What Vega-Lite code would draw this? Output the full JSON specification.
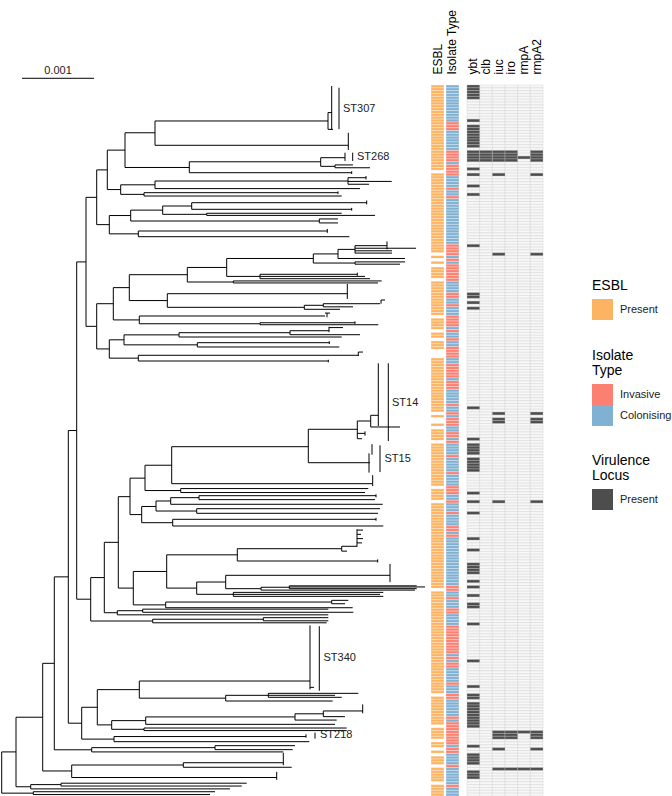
{
"$schema":"https://vega.github.io/schema/vega-lite/v6.json",
"autosize":{"type":"pad"},
"padding":{"top":9,"left":0,"right":0,"bottom":0},
"background":"white",
"config":{"view":{"stroke":null},
"axis":{"domain":false,"ticks":false,"grid":false,"labelFontSize":12,"labelFont":"Liberation Sans","labelColor":"#000","title":null},
"legend":{"orient":"none","titleFontSize":14,"titleFont":"Liberation Sans","titleFontWeight":"normal","titleColor":"#000","titleLineHeight":15,"titlePadding":6,"labelFontSize":11,"labelFont":"Liberation Sans","labelColor":"#222","labelOffset":7,"symbolType":"square","symbolSize":441,"symbolStrokeWidth":0,"symbolOpacity":1,"rowPadding":0,"padding":0}},
"datasets":{
"tips":[
{"r":0,"e":1,"t":"C","ybt":1},{"r":1,"e":1,"t":"C","ybt":1},{"r":2,"e":1,"t":"C","ybt":1},{"r":3,"e":1,"t":"C","ybt":1},{"r":4,"e":1,"t":"C","ybt":1},
{"r":5,"e":1,"t":"C"},{"r":6,"e":1,"t":"C"},{"r":7,"e":1,"t":"C"},{"r":8,"e":1,"t":"C"},{"r":9,"e":1,"t":"C"},{"r":10,"e":1,"t":"C"},{"r":11,"e":1,"t":"C"},
{"r":12,"e":1,"t":"C","ybt":1},{"r":13,"e":1,"t":"I"},{"r":14,"e":1,"t":"I","ybt":1},{"r":15,"e":1,"t":"I","ybt":1},
{"r":16,"e":1,"t":"C","ybt":1},{"r":17,"e":1,"t":"C","ybt":1},{"r":18,"e":1,"t":"C","ybt":1},{"r":19,"e":1,"t":"C","ybt":1},{"r":20,"e":1,"t":"C","ybt":1},{"r":21,"e":1,"t":"C","ybt":1},
{"r":22,"e":1,"t":"C"},
{"r":23,"e":1,"t":"I","ybt":1,"clb":1,"iuc":1,"iro":1,"rmpA2":1},{"r":24,"e":1,"t":"I","ybt":1,"clb":1,"iuc":1,"iro":1,"rmpA2":1},{"r":25,"e":1,"t":"I","ybt":1,"clb":1,"iuc":1,"iro":1,"rmpA":1,"rmpA2":1},{"r":26,"e":1,"t":"I","ybt":1,"clb":1,"iuc":1,"iro":1,"rmpA2":1},
{"r":27,"e":1,"t":"C"},{"r":28,"e":1,"t":"I"},{"r":29,"e":1,"t":"I","ybt":1},{"r":30,"e":0,"t":"I"},{"r":31,"e":1,"t":"I","ybt":1,"iuc":1,"rmpA2":1},
{"r":32,"e":1,"t":"C"},{"r":33,"e":1,"t":"C"},{"r":34,"e":1,"t":"C"},{"r":35,"e":1,"t":"C","ybt":1},{"r":36,"e":1,"t":"I"},{"r":37,"e":1,"t":"C"},{"r":38,"e":1,"t":"C","ybt":1},{"r":39,"e":1,"t":"I"},
{"r":40,"e":1,"t":"C"},{"r":41,"e":1,"t":"C"},{"r":42,"e":1,"t":"C"},{"r":43,"e":1,"t":"C"},{"r":44,"e":1,"t":"C"},{"r":45,"e":1,"t":"C"},{"r":46,"e":1,"t":"C"},{"r":47,"e":1,"t":"C"},
{"r":48,"e":1,"t":"C"},{"r":49,"e":1,"t":"C"},{"r":50,"e":1,"t":"C"},{"r":51,"e":1,"t":"C"},{"r":52,"e":1,"t":"C"},{"r":53,"e":1,"t":"C"},{"r":54,"e":1,"t":"C"},{"r":55,"e":1,"t":"C"},
{"r":56,"e":1,"t":"I","ybt":1},{"r":57,"e":1,"t":"I"},{"r":58,"e":1,"t":"I"},{"r":59,"e":0,"t":"I","iuc":1,"rmpA2":1},{"r":60,"e":1,"t":"C"},{"r":61,"e":0,"t":"I"},{"r":62,"e":1,"t":"C"},{"r":63,"e":0,"t":"I"},
{"r":64,"e":1,"t":"I"},{"r":65,"e":1,"t":"I"},{"r":66,"e":1,"t":"I"},{"r":67,"e":1,"t":"I"},{"r":68,"e":0,"t":"I"},
{"r":69,"e":1,"t":"C"},{"r":70,"e":1,"t":"C"},{"r":71,"e":1,"t":"C"},{"r":72,"e":1,"t":"C"},{"r":73,"e":1,"t":"I","ybt":1},{"r":74,"e":1,"t":"I","ybt":1},{"r":75,"e":1,"t":"C"},{"r":76,"e":1,"t":"C","ybt":1},
{"r":77,"e":1,"t":"I"},{"r":78,"e":1,"t":"C","ybt":1},{"r":79,"e":1,"t":"C"},{"r":80,"e":1,"t":"C"},{"r":81,"e":0,"t":"I"},{"r":82,"e":1,"t":"I"},{"r":83,"e":1,"t":"I"},{"r":84,"e":1,"t":"I"},
{"r":85,"e":1,"t":"C"},{"r":86,"e":0,"t":"I"},{"r":87,"e":1,"t":"C"},{"r":88,"e":1,"t":"C"},{"r":89,"e":0,"t":"I"},{"r":90,"e":1,"t":"C"},{"r":91,"e":1,"t":"C"},{"r":92,"e":1,"t":"I"},
{"r":93,"e":0,"t":"I"},{"r":94,"e":0,"t":"I"},{"r":95,"e":0,"t":"I"},{"r":96,"e":1,"t":"C"},{"r":97,"e":1,"t":"C"},
{"r":98,"e":1,"t":"I"},{"r":99,"e":1,"t":"I"},{"r":100,"e":1,"t":"I"},{"r":101,"e":1,"t":"I"},{"r":102,"e":1,"t":"I"},{"r":103,"e":1,"t":"C"},{"r":104,"e":1,"t":"I"},{"r":105,"e":1,"t":"I"},{"r":106,"e":1,"t":"I"},
{"r":107,"e":1,"t":"C"},{"r":108,"e":1,"t":"C"},{"r":109,"e":1,"t":"C"},{"r":110,"e":1,"t":"C"},{"r":111,"e":1,"t":"C"},{"r":112,"e":1,"t":"I"},{"r":113,"e":1,"t":"C","ybt":1},{"r":114,"e":1,"t":"C"},
{"r":115,"e":0,"t":"I","iuc":1,"rmpA2":1},{"r":116,"e":1,"t":"C"},{"r":117,"e":0,"t":"I","iuc":1,"rmpA2":1},{"r":118,"e":0,"t":"I","iuc":1,"rmpA2":1},{"r":119,"e":1,"t":"I"},{"r":120,"e":0,"t":"C"},{"r":121,"e":1,"t":"C"},
{"r":122,"e":1,"t":"I"},{"r":123,"e":1,"t":"I"},{"r":124,"e":1,"t":"C","ybt":1},{"r":125,"e":0,"t":"I"},
{"r":126,"e":1,"t":"C","ybt":1},{"r":127,"e":1,"t":"C","ybt":1},{"r":128,"e":1,"t":"C","ybt":1},{"r":129,"e":1,"t":"C","ybt":1},{"r":130,"e":1,"t":"I"},
{"r":131,"e":1,"t":"C","ybt":1},{"r":132,"e":1,"t":"C","ybt":1},{"r":133,"e":1,"t":"C","ybt":1},{"r":134,"e":1,"t":"C","ybt":1},{"r":135,"e":1,"t":"C","ybt":1},{"r":136,"e":1,"t":"I"},
{"r":137,"e":1,"t":"C"},{"r":138,"e":1,"t":"C"},{"r":139,"e":1,"t":"C"},{"r":140,"e":1,"t":"C"},{"r":141,"e":0,"t":"I"},{"r":142,"e":1,"t":"I"},{"r":143,"e":1,"t":"I","ybt":1},{"r":144,"e":1,"t":"C"},{"r":145,"e":1,"t":"C"},
{"r":146,"e":0,"t":"I","ybt":1,"iuc":1,"rmpA2":1},{"r":147,"e":1,"t":"C"},{"r":148,"e":1,"t":"C"},{"r":149,"e":1,"t":"C"},{"r":150,"e":1,"t":"I","ybt":1},
{"r":151,"e":1,"t":"C"},{"r":152,"e":1,"t":"C"},{"r":153,"e":1,"t":"C"},{"r":154,"e":1,"t":"C"},{"r":155,"e":1,"t":"I"},{"r":156,"e":1,"t":"I"},{"r":157,"e":1,"t":"C"},{"r":158,"e":1,"t":"I"},{"r":159,"e":1,"t":"C","ybt":1},
{"r":160,"e":1,"t":"C"},{"r":161,"e":1,"t":"C"},{"r":162,"e":1,"t":"C"},{"r":163,"e":1,"t":"C","ybt":1},{"r":164,"e":1,"t":"C"},{"r":165,"e":1,"t":"C"},{"r":166,"e":1,"t":"C"},{"r":167,"e":1,"t":"C"},
{"r":168,"e":1,"t":"C","ybt":1},{"r":169,"e":1,"t":"C","ybt":1},{"r":170,"e":1,"t":"C","ybt":1},{"r":171,"e":1,"t":"C","ybt":1},{"r":172,"e":1,"t":"C"},{"r":173,"e":1,"t":"C"},{"r":174,"e":1,"t":"C","ybt":1},{"r":175,"e":1,"t":"C"},
{"r":176,"e":1,"t":"I","ybt":1},{"r":177,"e":0,"t":"I"},{"r":178,"e":1,"t":"C"},{"r":179,"e":1,"t":"C","ybt":1},{"r":180,"e":1,"t":"I"},{"r":181,"e":1,"t":"C"},{"r":182,"e":1,"t":"C","ybt":1},{"r":183,"e":1,"t":"C","ybt":1},
{"r":184,"e":1,"t":"I"},{"r":185,"e":1,"t":"I"},{"r":186,"e":1,"t":"C"},{"r":187,"e":1,"t":"C"},{"r":188,"e":1,"t":"C"},{"r":189,"e":1,"t":"C","ybt":1},
{"r":190,"e":1,"t":"I"},{"r":191,"e":1,"t":"I"},{"r":192,"e":1,"t":"I"},{"r":193,"e":1,"t":"I"},{"r":194,"e":1,"t":"I"},{"r":195,"e":1,"t":"I"},{"r":196,"e":1,"t":"I"},{"r":197,"e":1,"t":"I"},{"r":198,"e":1,"t":"I"},{"r":199,"e":1,"t":"I"},
{"r":200,"e":1,"t":"C"},{"r":201,"e":1,"t":"I"},{"r":202,"e":1,"t":"C","ybt":1},{"r":203,"e":1,"t":"I"},{"r":204,"e":1,"t":"I"},
{"r":205,"e":1,"t":"C"},{"r":206,"e":1,"t":"C"},{"r":207,"e":1,"t":"C"},{"r":208,"e":1,"t":"C"},{"r":209,"e":1,"t":"C"},{"r":210,"e":1,"t":"I"},{"r":211,"e":1,"t":"C","ybt":1},{"r":212,"e":1,"t":"C"},{"r":213,"e":1,"t":"C"},
{"r":214,"e":0,"t":"I","ybt":1},{"r":215,"e":1,"t":"I","ybt":1},{"r":216,"e":1,"t":"C"},
{"r":217,"e":1,"t":"C","ybt":1},{"r":218,"e":1,"t":"C","ybt":1},{"r":219,"e":1,"t":"C","ybt":1},{"r":220,"e":1,"t":"C","ybt":1},{"r":221,"e":1,"t":"C","ybt":1},{"r":222,"e":1,"t":"I","ybt":1},{"r":223,"e":1,"t":"C","ybt":1},{"r":224,"e":1,"t":"I","ybt":1},{"r":225,"e":0,"t":"I","ybt":1},
{"r":226,"e":1,"t":"I"},{"r":227,"e":1,"t":"I","iuc":1,"iro":1,"rmpA":1,"rmpA2":1},{"r":228,"e":1,"t":"I","iuc":1,"iro":1,"rmpA2":1},{"r":229,"e":1,"t":"I","iuc":1,"iro":1,"rmpA2":1},
{"r":230,"e":0,"t":"I"},{"r":231,"e":1,"t":"I"},{"r":232,"e":1,"t":"C","ybt":1},{"r":233,"e":0,"t":"I","iuc":1,"rmpA2":1},{"r":234,"e":1,"t":"I"},{"r":235,"e":0,"t":"C","ybt":1},
{"r":236,"e":1,"t":"C","ybt":1},{"r":237,"e":1,"t":"C","ybt":1},{"r":238,"e":1,"t":"C","ybt":1},{"r":239,"e":0,"t":"I"},{"r":240,"e":1,"t":"C","iuc":1,"iro":1,"rmpA":1,"rmpA2":1},
{"r":241,"e":1,"t":"C","ybt":1},{"r":242,"e":1,"t":"C","ybt":1},{"r":243,"e":1,"t":"C","ybt":1},{"r":244,"e":1,"t":"C"},{"r":245,"e":0,"t":"C"},{"r":246,"e":1,"t":"I"},{"r":247,"e":1,"t":"C"},{"r":248,"e":1,"t":"C"},{"r":249,"e":1,"t":"C"}
],
"h":[
{"x":1.7,"x2":16,"y":234.5},{"x":1.7,"x2":33.3,"y":249.0},{"x":33.3,"x2":215,"y":248.5},{"x":33.3,"x2":210,"y":249.5},{"x":16,"x2":30.7,"y":246.75},{"x":30.7,"x2":61,"y":246.0},{"x":30.7,"x2":230,"y":247.5},{"x":61,"x2":246.7,"y":245.5},{"x":61,"x2":241.7,"y":246.5},
{"x":16,"x2":42.7,"y":222.3},{"x":42.7,"x2":54.3,"y":203.35},{"x":42.7,"x2":71.7,"y":241.2},{"x":71.7,"x2":183.3,"y":239.1},{"x":71.7,"x2":276.7,"y":243.5},{"x":183.3,"x2":283.3,"y":238.3},{"x":183.3,"x2":291.7,"y":239.9},
{"x":54.3,"x2":68.3,"y":172.95},{"x":54.3,"x2":91.7,"y":233.75},{"x":91.7,"x2":215,"y":233.0},{"x":91.7,"x2":283.3,"y":234.5},{"x":215,"x2":295,"y":232.3},{"x":215,"x2":292.7,"y":233.7},
{"x":68.3,"x2":76.7,"y":121.5},{"x":68.3,"x2":81.7,"y":224.4},{"x":81.7,"x2":97.3,"y":218.8},{"x":81.7,"x2":114,"y":230.0},{"x":114,"x2":306,"y":229.1},{"x":114,"x2":309.3,"y":230.9},
{"x":97.3,"x2":139.3,"y":212.6},{"x":97.3,"x2":111.7,"y":225.0},{"x":139.3,"x2":310,"y":209.57},{"x":139.3,"x2":225.7,"y":215.6},{"x":310,"x2":314,"y":211.8},
{"x":225.7,"x2":268.3,"y":214.6},{"x":225.7,"x2":332.7,"y":216.6},{"x":268.3,"x2":358.3,"y":213.9},{"x":268.3,"x2":335,"y":214.6},{"x":268.3,"x2":341.7,"y":215.3},
{"x":111.7,"x2":145.7,"y":223.5},{"x":111.7,"x2":144,"y":226.55},{"x":144,"x2":346.7,"y":226.1},{"x":144,"x2":346.7,"y":227.0},{"x":145.7,"x2":295,"y":222.2},{"x":145.7,"x2":335,"y":224.8},
{"x":295,"x2":323.3,"y":221.1},{"x":295,"x2":336.7,"y":223.3},{"x":323.3,"x2":362.7,"y":220.1},{"x":323.3,"x2":345,"y":222.1},
{"x":76.7,"x2":86,"y":62.2},{"x":76.7,"x2":90.7,"y":180.8},{"x":90.7,"x2":104.3,"y":173.2},{"x":90.7,"x2":152.7,"y":188.47},{"x":152.7,"x2":263.3,"y":187.85},{"x":152.7,"x2":326.7,"y":189.1},
{"x":263.3,"x2":328.3,"y":187.3},{"x":263.3,"x2":328.3,"y":188.4},{"x":104.3,"x2":118.3,"y":160.8},{"x":104.3,"x2":117.3,"y":185.56},{"x":117.3,"x2":142.7,"y":184.85},{"x":117.3,"x2":328.3,"y":186.3},
{"x":142.7,"x2":328.3,"y":184.3},{"x":142.7,"x2":353.3,"y":185.4},{"x":118.3,"x2":130,"y":144.75},{"x":118.3,"x2":133.3,"y":176.9},{"x":133.3,"x2":166.7,"y":171.05},{"x":133.3,"x2":165.7,"y":182.8},
{"x":165.7,"x2":331.7,"y":181.8},{"x":165.7,"x2":352.7,"y":183.8},{"x":331.7,"x2":348.3,"y":181.2},{"x":331.7,"x2":345,"y":182.4},{"x":166.7,"x2":237.3,"y":165.2},{"x":166.7,"x2":196.7,"y":176.9},
{"x":237.3,"x2":341.7,"y":163.05},{"x":237.3,"x2":377.7,"y":167.37},{"x":341.7,"x2":357,"y":162.2},{"x":341.7,"x2":347,"y":163.9},{"x":357,"x2":363,"y":156.5},{"x":357,"x2":361,"y":158},{"x":357,"x2":363,"y":159.5},{"x":357,"x2":362,"y":161},
{"x":196.7,"x2":225.7,"y":174.76},{"x":196.7,"x2":233.3,"y":179.08},{"x":225.7,"x2":390,"y":172.4},{"x":225.7,"x2":261,"y":177.11},{"x":261,"x2":289.3,"y":176.6},{"x":261,"x2":415,"y":177.6},
{"x":289.3,"x2":416.7,"y":176.1},{"x":289.3,"x2":425,"y":176.5},{"x":289.3,"x2":416.7,"y":177.1},{"x":233.3,"x2":383.3,"y":178.4},{"x":233.3,"x2":380,"y":179.1},{"x":233.3,"x2":383.3,"y":179.8},
{"x":130,"x2":145,"y":138.24},{"x":130,"x2":141.7,"y":151.05},{"x":145,"x2":171.7,"y":133.7},{"x":145,"x2":180.7,"y":142.6},{"x":180.7,"x2":368.3,"y":141.9},{"x":180.7,"x2":365,"y":143.3},
{"x":171.7,"x2":308.3,"y":127.18},{"x":171.7,"x2":372.7,"y":140.19},{"x":308.3,"x2":357.3,"y":121.06},{"x":308.3,"x2":370,"y":132.81},{"x":357.3,"x2":370.7,"y":118.14},{"x":357.3,"x2":365,"y":122.5},{"x":357.3,"x2":362,"y":124.37},
{"x":370.7,"x2":378.3,"y":116.14},{"x":370.7,"x2":400,"y":120.25},{"x":141.7,"x2":156,"y":148.2},{"x":141.7,"x2":172.7,"y":153.9},{"x":172.7,"x2":376,"y":152.71},{"x":172.7,"x2":383.3,"y":155.06},
{"x":156,"x2":170.7,"y":146.27},{"x":156,"x2":196.7,"y":149.8},{"x":170.7,"x2":199,"y":145.1},{"x":170.7,"x2":382.7,"y":147.43},{"x":199,"x2":376,"y":144.4},{"x":199,"x2":375,"y":145.8},{"x":196.7,"x2":380,"y":148.98},{"x":196.7,"x2":378,"y":150.6},
{"x":86,"x2":96.7,"y":39.5},{"x":86,"x2":96.7,"y":84.85},{"x":96.7,"x2":107.3,"y":29.85},{"x":96.7,"x2":109.3,"y":49.1},{"x":107.3,"x2":125,"y":22.9},{"x":107.3,"x2":120.7,"y":36.77},
{"x":125,"x2":155,"y":16.8},{"x":125,"x2":189.3,"y":29.0},{"x":155,"x2":328,"y":12.65},{"x":155,"x2":348.3,"y":21.2},{"x":328,"x2":331.7,"y":9.7},{"x":328,"x2":333,"y":15.6},
{"x":189.3,"x2":320.7,"y":27.0},{"x":189.3,"x2":351.7,"y":30.84},{"x":320.7,"x2":345,"y":25.56},{"x":320.7,"x2":335,"y":28.6},{"x":335,"x2":353,"y":28.1},{"x":335,"x2":370,"y":29.1},
{"x":120.7,"x2":155,"y":35.1},{"x":120.7,"x2":144,"y":38.45},{"x":155,"x2":348,"y":33.76},{"x":155,"x2":360,"y":36.43},{"x":348,"x2":366,"y":32.6},{"x":348,"x2":391.7,"y":33.9},{"x":348,"x2":369,"y":34.9},
{"x":144,"x2":338,"y":37.87},{"x":144,"x2":341.7,"y":39.03},{"x":109.3,"x2":130.7,"y":45.9},{"x":109.3,"x2":138.3,"y":52.34},{"x":130.7,"x2":162.7,"y":44.0},{"x":130.7,"x2":319.3,"y":47.82},
{"x":162.7,"x2":191.7,"y":42.55},{"x":162.7,"x2":206.7,"y":45.47},{"x":191.7,"x2":366.7,"y":41.39},{"x":191.7,"x2":351.7,"y":43.71},{"x":206.7,"x2":341.7,"y":45.1},{"x":206.7,"x2":375,"y":45.85},
{"x":319.3,"x2":338,"y":47.1},{"x":319.3,"x2":338,"y":48.5},{"x":138.3,"x2":327.3,"y":51.34},{"x":138.3,"x2":349.3,"y":53.34},
{"x":96.7,"x2":113.3,"y":76.9},{"x":96.7,"x2":109.3,"y":92.8},{"x":113.3,"x2":129.3,"y":71.25},{"x":113.3,"x2":139.3,"y":82.6},{"x":129.3,"x2":187.3,"y":66.7},{"x":129.3,"x2":167.3,"y":75.8},
{"x":187.3,"x2":226.7,"y":64.15},{"x":187.3,"x2":233.3,"y":69.27},{"x":233.3,"x2":381.7,"y":68.9},{"x":233.3,"x2":378,"y":69.6},{"x":226.7,"x2":313.3,"y":61.0},{"x":226.7,"x2":260,"y":67.3},
{"x":313.3,"x2":338,"y":59.4},{"x":313.3,"x2":355,"y":62.6},{"x":338,"x2":355,"y":57.8},{"x":338,"x2":405,"y":61.0},{"x":355,"x2":387,"y":56.5},{"x":355,"x2":416,"y":57.4},{"x":355,"x2":392,"y":58.3},{"x":355,"x2":392,"y":59.1},
{"x":355,"x2":405,"y":62.2},{"x":355,"x2":400,"y":63.0},{"x":260,"x2":357.3,"y":66.56},{"x":260,"x2":365,"y":67.3},{"x":260,"x2":370,"y":68.11},
{"x":167.3,"x2":347.3,"y":73.38},{"x":167.3,"x2":304.3,"y":78.17},{"x":304.3,"x2":323.3,"y":77.46},{"x":304.3,"x2":340,"y":78.87},{"x":323.3,"x2":380,"y":76.9},{"x":323.3,"x2":353,"y":78.0},{"x":381,"x2":385,"y":75.6},
{"x":139.3,"x2":325,"y":81.22},{"x":139.3,"x2":260,"y":83.95},{"x":260,"x2":355,"y":83.6},{"x":260,"x2":378.3,"y":84.3},{"x":325,"x2":330,"y":80.2},
{"x":109.3,"x2":124,"y":89.6},{"x":109.3,"x2":138.3,"y":96.05},{"x":124,"x2":179,"y":87.86},{"x":124,"x2":197.3,"y":91.37},{"x":179,"x2":290,"y":87.1},{"x":179,"x2":341.7,"y":88.61},
{"x":290,"x2":329,"y":86.4},{"x":290,"x2":360,"y":87.8},{"x":329,"x2":343,"y":85.3},{"x":197.3,"x2":329.3,"y":90.61},{"x":197.3,"x2":339.3,"y":92.12},{"x":138.3,"x2":358.3,"y":95.04},{"x":138.3,"x2":328.3,"y":97.05},{"x":358.3,"x2":363,"y":93.9},
{"x":22,"x2":94,"y":-2.36}
],
"v":[
{"x":1.7,"y":234.5,"y2":249.0},{"x":16,"y":222.3,"y2":246.75},{"x":33.3,"y":248.5,"y2":249.5},{"x":30.7,"y":246.0,"y2":247.5},{"x":61,"y":245.5,"y2":246.5},{"x":42.7,"y":203.35,"y2":241.2},
{"x":71.7,"y":239.1,"y2":243.5},{"x":183.3,"y":238.3,"y2":239.9},{"x":283.3,"y":234.8,"y2":239.2},{"x":276.7,"y":241.5,"y2":244.3},{"x":54.3,"y":172.95,"y2":233.75},{"x":91.7,"y":233.0,"y2":234.5},{"x":215,"y":232.3,"y2":233.7},
{"x":68.3,"y":121.5,"y2":224.4},{"x":81.7,"y":218.8,"y2":230.0},{"x":114,"y":229.1,"y2":230.9},{"x":306,"y":228.3,"y2":229.5},{"x":315,"y":227.7,"y2":229.85},{"x":97.3,"y":212.6,"y2":225.0},
{"x":139.3,"y":209.57,"y2":215.6},{"x":310,"y":190.0,"y2":212.5},{"x":319.3,"y":190.3,"y2":213.0},{"x":225.7,"y":214.6,"y2":216.6},{"x":268.3,"y":213.9,"y2":215.3},{"x":111.7,"y":223.5,"y2":226.55},
{"x":145.7,"y":222.2,"y2":224.8},{"x":295,"y":221.1,"y2":223.3},{"x":323.3,"y":220.1,"y2":222.1},{"x":362.7,"y":217.8,"y2":220.9},{"x":144,"y":226.1,"y2":227.0},
{"x":76.7,"y":62.2,"y2":180.8},{"x":90.7,"y":173.2,"y2":188.47},{"x":152.7,"y":187.85,"y2":189.1},{"x":263.3,"y":187.3,"y2":188.4},{"x":104.3,"y":160.8,"y2":185.56},{"x":117.3,"y":184.85,"y2":186.3},
{"x":142.7,"y":184.3,"y2":185.4},{"x":118.3,"y":144.75,"y2":176.9},{"x":133.3,"y":171.05,"y2":182.8},{"x":165.7,"y":181.8,"y2":183.8},{"x":331.7,"y":181.2,"y2":182.4},{"x":166.7,"y":165.2,"y2":176.9},
{"x":237.3,"y":163.05,"y2":167.37},{"x":377.7,"y":166.8,"y2":167.9},{"x":341.7,"y":162.2,"y2":163.9},{"x":357,"y":156.2,"y2":162.4},{"x":196.7,"y":174.76,"y2":179.08},{"x":225.7,"y":172.4,"y2":177.11},
{"x":390,"y":168.4,"y2":174.8},{"x":261,"y":176.6,"y2":177.6},{"x":289.3,"y":176.1,"y2":177.1},{"x":233.3,"y":178.4,"y2":179.8},
{"x":130,"y":138.24,"y2":151.05},{"x":145,"y":133.7,"y2":142.6},{"x":180.7,"y":141.9,"y2":143.3},{"x":171.7,"y":127.18,"y2":140.19},{"x":372.7,"y":137.2,"y2":141.0},{"x":308.3,"y":121.06,"y2":132.81},
{"x":357.3,"y":118.14,"y2":124.37},{"x":365,"y":121.8,"y2":123.3},{"x":370.7,"y":116.14,"y2":120.25},{"x":378.3,"y":97.86,"y2":119.9},{"x":388.3,"y":97.86,"y2":125.18},{"x":372,"y":126.3,"y2":130.0},
{"x":369,"y":129.5,"y2":136.3},{"x":380,"y":126.7,"y2":136.1},{"x":141.7,"y":148.2,"y2":153.9},{"x":172.7,"y":152.71,"y2":155.06},{"x":376,"y":152.2,"y2":153.2},{"x":156,"y":146.27,"y2":149.8},
{"x":170.7,"y":145.1,"y2":147.43},{"x":199,"y":144.4,"y2":145.8},{"x":376,"y":143.9,"y2":145.0},{"x":196.7,"y":148.98,"y2":150.6},
{"x":86,"y":39.5,"y2":84.85},{"x":96.7,"y":29.85,"y2":49.1},{"x":107.3,"y":22.9,"y2":36.77},{"x":125,"y":16.8,"y2":29.0},{"x":155,"y":12.65,"y2":21.2},{"x":328,"y":9.7,"y2":15.6},
{"x":331.7,"y":0.35,"y2":15.8},{"x":339,"y":0.95,"y2":15.5},{"x":348.3,"y":16.8,"y2":22.85},{"x":189.3,"y":27.0,"y2":30.84},{"x":320.7,"y":25.56,"y2":28.6},{"x":345,"y":23.8,"y2":26.7},
{"x":352.7,"y":23.8,"y2":26.7},{"x":335,"y":28.1,"y2":29.1},{"x":351.7,"y":30.3,"y2":31.3},{"x":120.7,"y":35.1,"y2":38.45},{"x":155,"y":33.76,"y2":36.43},{"x":348,"y":32.6,"y2":34.9},
{"x":366,"y":32.0,"y2":33.2},{"x":144,"y":37.87,"y2":39.03},{"x":338,"y":37.4,"y2":38.3},{"x":109.3,"y":45.9,"y2":52.34},{"x":130.7,"y":44.0,"y2":47.82},{"x":162.7,"y":42.55,"y2":45.47},
{"x":191.7,"y":41.39,"y2":43.71},{"x":366.7,"y":40.6,"y2":42.0},{"x":351.7,"y":43.2,"y2":44.2},{"x":206.7,"y":45.1,"y2":45.85},{"x":319.3,"y":47.1,"y2":48.5},{"x":138.3,"y":51.34,"y2":53.34},{"x":327.3,"y":50.6,"y2":52.0},
{"x":96.7,"y":76.9,"y2":92.8},{"x":113.3,"y":71.25,"y2":82.6},{"x":129.3,"y":66.7,"y2":75.8},{"x":187.3,"y":64.15,"y2":69.27},{"x":226.7,"y":61.0,"y2":67.3},{"x":313.3,"y":59.4,"y2":62.6},
{"x":338,"y":57.8,"y2":61.0},{"x":355,"y":56.5,"y2":59.1},{"x":387,"y":55.0,"y2":57.8},{"x":355,"y":62.2,"y2":63.0},{"x":260,"y":66.56,"y2":68.11},{"x":357.3,"y":66.0,"y2":67.1},{"x":233.3,"y":68.9,"y2":69.6},
{"x":167.3,"y":73.38,"y2":78.17},{"x":347.3,"y":69.97,"y2":75.25},{"x":304.3,"y":77.46,"y2":78.87},{"x":323.3,"y":76.9,"y2":78.0},{"x":381,"y":75.6,"y2":76.9},{"x":139.3,"y":81.22,"y2":83.95},
{"x":327,"y":80.2,"y2":81.7},{"x":260,"y":83.6,"y2":84.3},{"x":355,"y":83.1,"y2":84.0},{"x":109.3,"y":89.6,"y2":96.05},{"x":124,"y":87.86,"y2":91.37},{"x":179,"y":87.1,"y2":88.61},
{"x":290,"y":86.4,"y2":87.8},{"x":329,"y":85.0,"y2":86.9},{"x":197.3,"y":90.61,"y2":92.12},{"x":329.3,"y":90.1,"y2":91.1},{"x":138.3,"y":95.04,"y2":97.05},{"x":358.3,"y":93.9,"y2":95.3},{"x":328.3,"y":96.6,"y2":97.5}
],
"lab":[
{"x":343,"y":8.5,"t":"ST307"},{"x":357,"y":25.2,"t":"ST268"},{"x":392,"y":111.7,"t":"ST14"},{"x":384.5,"y":131.6,"t":"ST15"},{"x":323.5,"y":201.6,"t":"ST340"},{"x":320,"y":228.65,"t":"ST218"}
],
"sc":[{"x":58,"y":-5.0,"t":"0.001"}]
},
"hconcat":[
{"width":429,"height":711,
 "encoding":{
  "x":{"field":"x","type":"quantitative","scale":{"domain":[0,429],"nice":false,"zero":false},"axis":null},
  "y":{"field":"y","type":"quantitative","scale":{"domain":[0,250],"reverse":true,"nice":false,"zero":false},"axis":null}},
 "layer":[
  {"data":{"name":"h"},"mark":{"type":"rule","color":"#000","strokeWidth":1},"encoding":{"x2":{"field":"x2"}}},
  {"data":{"name":"v"},"mark":{"type":"rule","color":"#000","strokeWidth":1},"encoding":{"y2":{"field":"y2"}}},
  {"data":{"name":"lab"},"mark":{"type":"text","align":"left","baseline":"middle","fontSize":11,"font":"Liberation Sans","color":"#222"},"encoding":{"text":{"field":"t"}}},
  {"data":{"name":"sc"},"mark":{"type":"text","align":"center","baseline":"middle","fontSize":11,"font":"Liberation Sans","color":"#222"},"encoding":{"text":{"field":"t"}}}
 ]},
{"width":13,"height":711,"data":{"name":"tips"},
 "mark":{"type":"rect","stroke":"#ffffff","strokeWidth":0.3},
 "encoding":{
  "x":{"datum":"ESBL","type":"nominal","scale":{"paddingInner":0,"paddingOuter":0},"axis":{"orient":"top","labelAngle":-90,"labelPadding":11}},
  "y":{"field":"r","type":"ordinal","scale":{"paddingInner":0,"paddingOuter":0},"axis":null},
  "color":{"field":"e","type":"nominal","scale":{"domain":[1,0],"range":["#FDB462","#FFFFFF"]},"legend":{"title":"ESBL","values":[1],"labelExpr":"'Present'","legendX":161,"legendY":194}}}},
{"width":19,"height":711,"data":{"name":"tips"},
 "mark":{"type":"rect","stroke":"#ffffff","strokeWidth":0.3},
 "encoding":{
  "x":{"datum":"Isolate Type","type":"nominal","scale":{"paddingInner":0,"paddingOuter":0.2308,"align":0},"axis":{"orient":"top","labelAngle":-90,"labelPadding":11}},
  "y":{"field":"r","type":"ordinal","scale":{"paddingInner":0,"paddingOuter":0},"axis":null},
  "color":{"field":"t","type":"nominal","scale":{"domain":["I","C"],"range":["#FB8072","#80B1D3"]},"legend":{"title":["Isolate","Type"],"labelExpr":"datum.label == 'I' ? 'Invasive' : 'Colonising'","legendX":146,"legendY":264}}}},
{"width":76,"height":711,"data":{"name":"tips"},
 "transform":[{"fold":["ybt","clb","iuc","iro","rmpA","rmpA2"]}],
 "encoding":{
  "x":{"field":"key","type":"nominal","sort":["ybt","clb","iuc","iro","rmpA","rmpA2"],"scale":{"paddingInner":0,"paddingOuter":0},"axis":{"orient":"top","labelAngle":-90,"labelPadding":11}},
  "y":{"field":"r","type":"ordinal","scale":{"paddingInner":0,"paddingOuter":0},"axis":null}},
 "layer":[
  {"mark":{"type":"rect","fill":"#f7f7f7","stroke":"#d6d6d6","strokeWidth":0.5}},
  {"transform":[{"filter":"datum.value == 1"}],"mark":{"type":"rect","stroke":"#d6d6d6","strokeWidth":0.3},
   "encoding":{"color":{"field":"value","type":"nominal","scale":{"domain":[1],"range":["#4D4D4D"]},"legend":{"title":["Virulence","Locus"],"labelExpr":"'Present'","legendX":125,"legendY":369}}}}
 ]}
],
"spacing":2,"bounds":"flush",
"resolve":{"scale":{"x":"independent","y":"independent","color":"independent"},"legend":{"color":"independent"}}
}
